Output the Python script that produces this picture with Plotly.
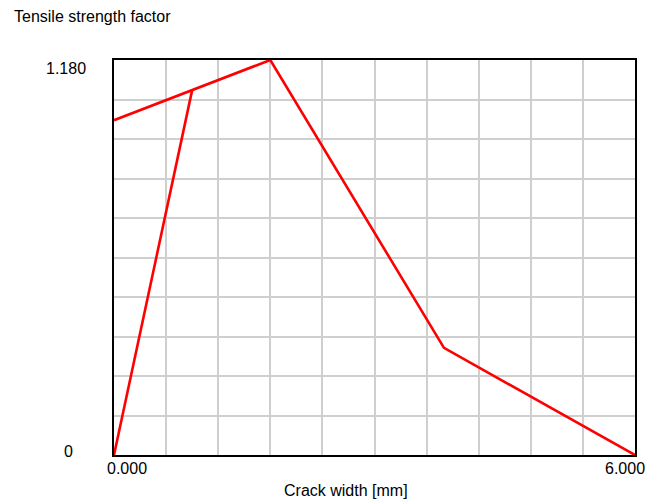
import plotly.graph_objects as go

# Data: tensile strength factor vs crack width
crack_width = [0.0, 0.9, None, 0.0, 1.8, 3.8, 6.0]
strength_factor = [0.0, 1.09, None, 1.0, 1.18, 0.32, 0.0]

x_min, x_max = 0.0, 6.0
y_min, y_max = 0.0, 1.18
x_tick_labels = ["0.000", "6.000"]
y_tick_labels = ["0", "1.180"]
x_title = "Crack width [mm]"
y_title = "Tensile strength factor"

n_div = 10
x_grid = [x_min + i * (x_max - x_min) / n_div for i in range(n_div + 1)]
y_grid = [y_min + i * (y_max - y_min) / n_div for i in range(n_div + 1)]

FONT = "Liberation Sans, Arial, sans-serif"

fig = go.Figure()
fig.add_trace(go.Scatter(
    x=crack_width, y=strength_factor, mode="lines",
    line=dict(color="#FF0000", width=2.6), connectgaps=False,
    hoverinfo="skip", showlegend=False,
))

fig.update_xaxes(
    range=[x_min, x_max], tickvals=x_grid, showticklabels=False,
    showgrid=True, gridcolor="#CFCFCF", gridwidth=1.5,
    showline=True, linecolor="black", linewidth=1.5, mirror=True,
    zeroline=False, ticks="",
)
fig.update_yaxes(
    range=[y_min, y_max], tickvals=y_grid, showticklabels=False,
    showgrid=True, gridcolor="#CFCFCF", gridwidth=1.5,
    showline=True, linecolor="black", linewidth=1.5, mirror=True,
    zeroline=False, ticks="",
)

ann = []
# x tick labels
ann.append(dict(x=x_min, y=y_min, xref="x", yref="y", text=x_tick_labels[0],
                showarrow=False, xanchor="left", yanchor="top", xshift=-9, yshift=-3))
ann.append(dict(x=x_max, y=y_min, xref="x", yref="y", text=x_tick_labels[1],
                showarrow=False, xanchor="right", yanchor="top", xshift=12, yshift=-3))
# y tick labels
ann.append(dict(x=x_min, y=y_min, xref="x", yref="y", text=y_tick_labels[0],
                showarrow=False, xanchor="center", yanchor="middle", xshift=-46, yshift=4))
ann.append(dict(x=x_min, y=y_max, xref="x", yref="y", text=y_tick_labels[1],
                showarrow=False, xanchor="center", yanchor="middle", xshift=-48, yshift=-8))
# axis titles
ann.append(dict(x=0.445, y=0, xref="paper", yref="paper", text=x_title,
                showarrow=False, xanchor="center", yanchor="top", yshift=-25))
ann.append(dict(x=-0.196, y=1.109, xref="paper", yref="paper", text=y_title,
                showarrow=False, xanchor="left", yanchor="middle"))

for a in ann:
    a["font"] = dict(family=FONT, size=16, color="black")

fig.update_layout(
    width=649, height=502,
    margin=dict(l=114, r=12, t=60, b=47),
    paper_bgcolor="white", plot_bgcolor="white",
    annotations=ann, showlegend=False,
)

fig.write_html("out.html", config={"displayModeBar": False},
               post_script="document.body.style.margin='0';document.body.style.overflow='hidden';")
